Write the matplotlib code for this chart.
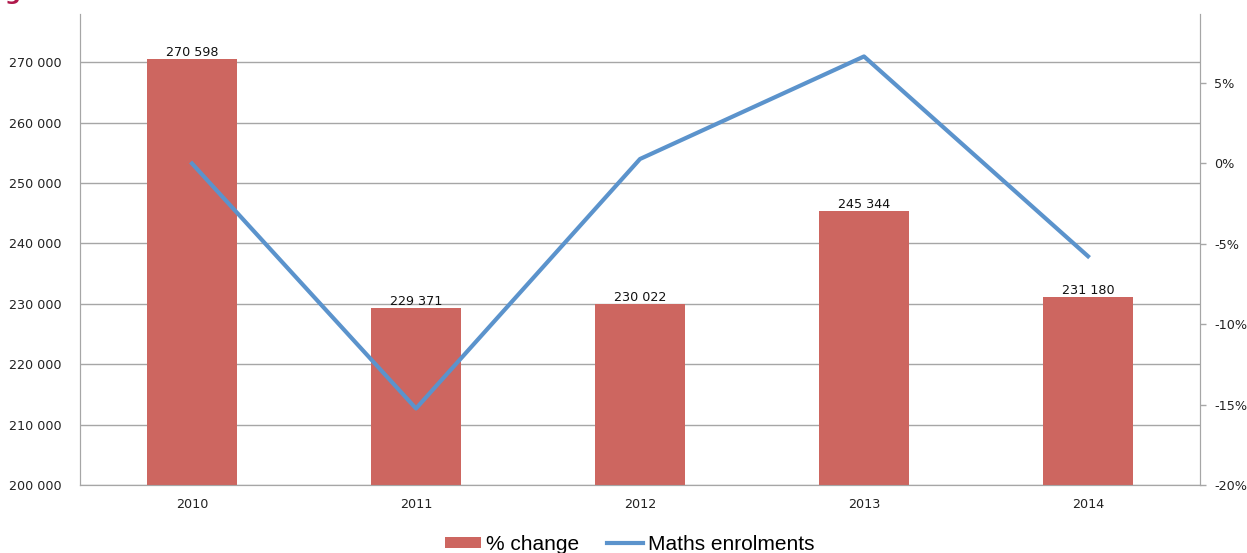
import matplotlib.pyplot as plt
from matplotlib.ticker import FuncFormatter

years = ["2010", "2011", "2012", "2013", "2014"]
enrolments = [270598, 229371, 230022, 245344, 231180]
pct_change = [0.0, -15.24, 0.28, 6.66, -5.77]

bar_color = "#CD6660"
line_color = "#5B93CC"
grid_color = "#A6A6A6"
text_color = "#222222"

plt.rcParams["font.family"] = ["DejaVu Sans"]

fig = plt.figure(figsize=(12.47, 5.53), dpi=100)
ax = fig.add_axes([80 / 1247, 1 - 485 / 553, 1120 / 1247, 471 / 553])
x = list(range(len(years)))

bars = ax.bar(x, enrolments, width=0.4, color=bar_color, zorder=3, label="% change")
ax.set_ylim(200000, 278000)
ax.set_xlim(-0.5, len(years) - 0.5)
ax.set_yticks(range(200000, 270001, 10000))
ax.yaxis.set_major_formatter(FuncFormatter(lambda v, p: f"{int(v):,}".replace(",", " ")))
ax.grid(axis="y", color=grid_color, linewidth=1, zorder=0)
ax.set_xticks(x)
ax.set_xticklabels(years)
ax.tick_params(axis="y", length=0, pad=13, labelsize=9.2, colors=text_color)
ax.tick_params(axis="x", length=0, pad=9, labelsize=9.2, colors=text_color)
ax.spines["top"].set_visible(False)
for side in ["left", "bottom", "right"]:
    ax.spines[side].set_color(grid_color)

for b, v in zip(bars, enrolments):
    ax.text(b.get_x() + b.get_width() / 2, v, f"{v:,}".replace(",", " "),
            ha="center", va="bottom", fontsize=9.2, color="#111111", zorder=4)

ax2 = ax.twinx()
line, = ax2.plot(x, pct_change, color=line_color, linewidth=3, zorder=5, label="Maths enrolments")
ax2.set_ylim(-20, 9.3)
ax2.set_yticks([-20, -15, -10, -5, 0, 5])
ax2.yaxis.set_major_formatter(FuncFormatter(lambda v, p: f"{int(v)}%"))
ax2.tick_params(axis="y", length=4, width=1, pad=6, labelsize=9.2, labelcolor=text_color, color=grid_color)
ax2.spines["top"].set_visible(False)
for side in ["left", "bottom", "right"]:
    ax2.spines[side].set_color(grid_color)

fig.legend(handles=[bars, line], loc="center", bbox_to_anchor=(0.505, 0.016),
           ncol=2, frameon=False, handlelength=1.75, handleheight=0.45,
           columnspacing=1.3, handletextpad=0.25,
           prop={"family": "Liberation Sans", "size": 15})

fig.text(0.004, 1.0, "g", color="#B0174A", fontsize=16, fontweight="bold", va="baseline")

fig.savefig("out.png", dpi=100)
